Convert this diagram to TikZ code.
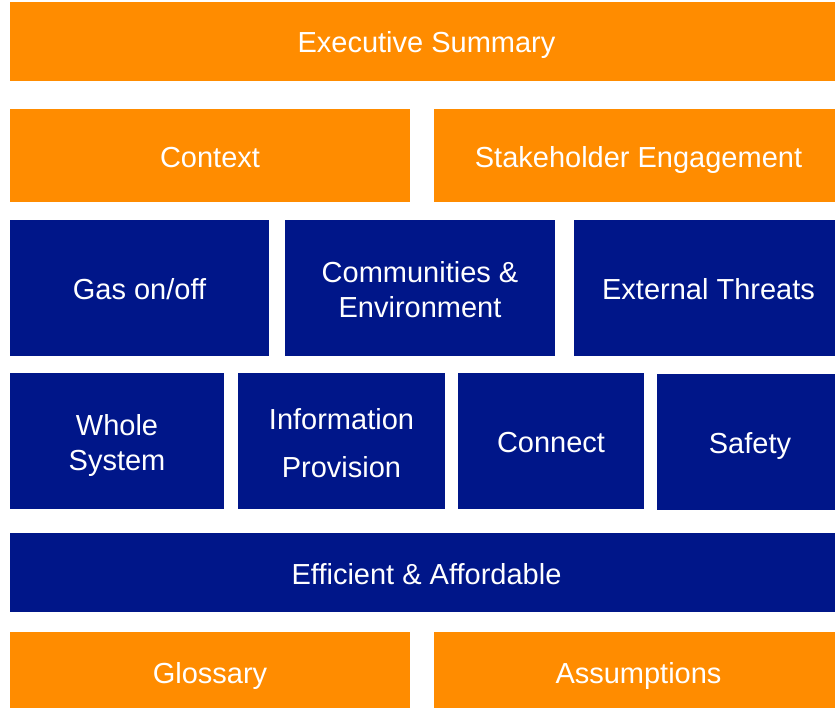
\documentclass[tikz,border=0pt]{standalone}
\usepackage{fontspec}
\setmainfont{Liberation Sans}
\definecolor{borange}{RGB}{255,140,0}
\definecolor{bblue}{RGB}{0,22,137}
\begin{document}
\begin{tikzpicture}[x=1pt,y=-1pt,
  box/.style={rectangle,inner sep=0pt,outer sep=0pt},
  obox/.style={box,fill=borange},
  nbox/.style={box,fill=bblue},
  lbl/.style={inner sep=0pt,text=white,align=center,
    font=\fontsize{29}{35}\selectfont}]
\useasboundingbox (0,0) rectangle (835,708);
\clip (0,0) rectangle (835,708);
% #1 style, #2-#5 corners, #6 name, #7 text shift, #8 text
\def\mybox#1#2#3#4#5#6#7#8{%
  \node[#1,minimum width={(#4-#2)*1pt},minimum height={(#5-#3)*1pt}] (#6) at ({(#2+#4)/2},{(#3+#5)/2}) {};
  \node[lbl] (#6-t) at ([yshift=-#7pt]#6.center) {#8};}
\mybox{obox}{10}{2}{843}{81}{exec}{4}{Executive Summary}
\mybox{obox}{10}{109}{410}{202}{context}{2}{Context}
\mybox{obox}{434}{109}{843}{202}{stake}{5}{Stakeholder Engagement}
\mybox{nbox}{10}{220}{269}{356}{gas}{1}{Gas on/off}
\mybox{nbox}{285}{220}{555}{356}{comm}{1.5}{Communities \&\\Environment}
\mybox{nbox}{574}{220}{843}{356}{ext}{1}{External Threats}
\mybox{nbox}{10}{373}{224}{509}{whole}{5}{Whole\\System}
\mybox{nbox}{238}{373}{445}{509}{info}{2}{Information\\[13pt]Provision}
\mybox{nbox}{458}{373}{644}{509}{connect}{2}{Connect}
\mybox{nbox}{657}{374}{843}{510}{safety}{4}{Safety}
\mybox{nbox}{10}{533}{843}{612}{eff}{2}{Efficient \& Affordable}
\mybox{obox}{10}{632}{410}{714}{gloss}{3}{Glossary}
\mybox{obox}{434}{632}{843}{714}{assum}{3}{Assumptions}
\end{tikzpicture}
\end{document}
